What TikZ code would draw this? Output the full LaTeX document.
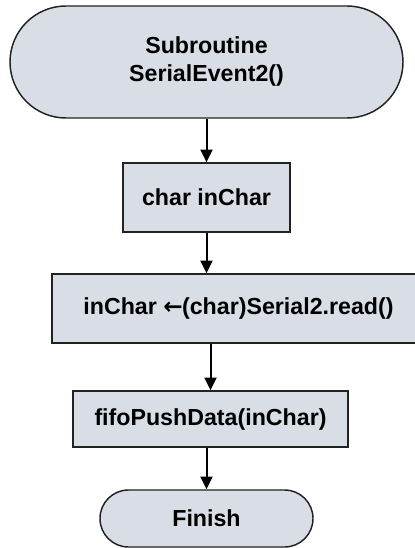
\documentclass[tikz,border=0pt]{standalone}
\usepackage{fontspec}
\setmainfont{Liberation Sans}
\newfontfamily\arrowfont{DejaVu Sans}
\usetikzlibrary{arrows.meta}
\definecolor{boxfill}{RGB}{216,221,230}
\definecolor{boxline}{RGB}{34,34,34}
\tikzset{
  flowbox/.style={draw=boxline, line width=1.1pt, fill=boxfill, rectangle,
    inner sep=0pt, align=center,
    font=\fontsize{17.4}{21}\selectfont\bfseries},
  terminal/.style={flowbox},
  flowarrow/.style={draw=black, line width=1.5pt,
    -{Triangle[length=9.5pt,width=9pt]}}
}
\begin{document}
\begin{tikzpicture}[x=0.75pt,y=-0.75pt]
  % page frame (414 x 548 px)
  \useasboundingbox (0,0) rectangle (414,548);

  % start terminal
  \node[terminal, minimum width=294.75pt, minimum height=84pt,
        rounded corners=42pt] (start) at (206.5,62)
        {Subroutine\\SerialEvent2()};
  % declaration
  \node[flowbox, minimum width=125.25pt, minimum height=51.75pt]
        (decl) at (206.5,197.5) {char inChar};
  % read from serial port
  \node[flowbox, minimum width=279.75pt, minimum height=51.75pt]
        (readc) at (238.5,308.5)
        {inChar {\arrowfont\bfseries ←}\kern-0.5pt(char)Serial2.read()};
  % push into fifo
  \node[flowbox, minimum width=206.25pt, minimum height=42pt]
        (push) at (210.5,419) {fifoPushData(inChar)};
  % end terminal
  \node[terminal, minimum width=159.75pt, minimum height=42.75pt,
        rounded corners=21.3pt] (finish) at (206.5,518.5) {Finish};

  % connectors
  \draw[flowarrow] (start.south) -- (decl.north);
  \draw[flowarrow] (decl.south) -- (readc.north -| decl.south);
  \draw[flowarrow] (readc.south -| push.north) -- (push.north);
  \draw[flowarrow] (push.south -| finish.north) -- (finish.north);
\end{tikzpicture}
\end{document}
